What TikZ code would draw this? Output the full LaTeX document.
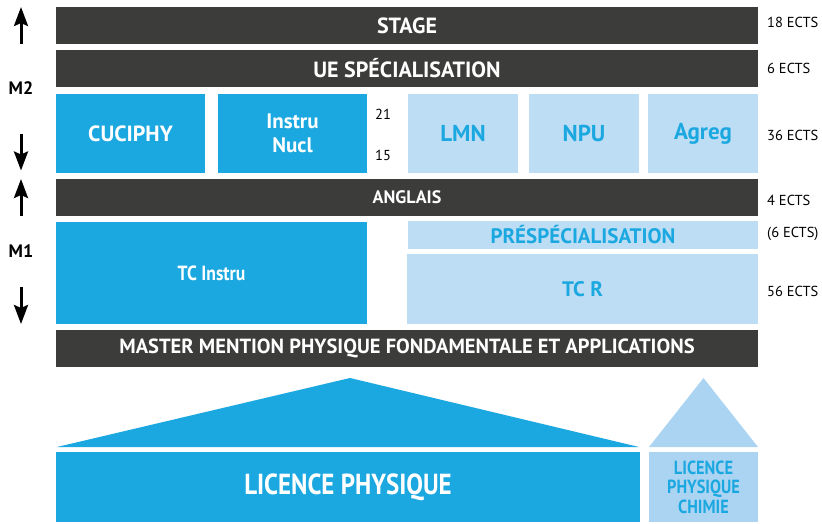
\documentclass[tikz,border=0pt]{standalone}
\usepackage{fontspec}
\setmainfont{PT Sans}
\newfontfamily\condb[FakeStretch=0.86]{PT Sans Bold}
\newfontfamily\plainb{PT Sans Bold}
\usetikzlibrary{arrows.meta}
\definecolor{darkbar}{HTML}{3C3C3B}
\definecolor{bblue}{HTML}{1BA8E0}
\definecolor{lblue}{HTML}{BDDDF4}
\definecolor{lblue2}{HTML}{ABD4F2}
\tikzset{
  box/.style={rectangle, inner sep=0pt, align=center, text=white, font=\plainb\fontsize{21}{21}\selectfont},
  dbar/.style={box, fill=darkbar, minimum width=702pt, minimum height=37pt},
  bbox/.style={box, fill=bblue},
  lbox/.style={box, fill=lblue, text=bblue},
  ects/.style={anchor=west, inner sep=0pt, font=\fontsize{14.5}{14.5}\selectfont},
  lvl/.style={inner sep=0pt, font=\plainb\fontsize{18}{18}\selectfont},
  yarrow/.style={line width=3pt, -{Stealth[width=14pt,length=19pt,inset=3pt]}}
}
\begin{document}
\begin{tikzpicture}[x=1pt,y=-1pt]
\fill[white] (0,0) rectangle (822,523);
\useasboundingbox (0,0) rectangle (822,523);
% dark bars
\node[dbar, font=\plainb\fontsize{22}{22}\selectfont] (stage) at (407,25.5) {STAGE};
\node[dbar, font=\plainb\fontsize{22}{22}\selectfont] (ue) at (407,68.5) {UE SPÉCIALISATION};
\node[dbar, font=\plainb\fontsize{18}{18}\selectfont] (anglais) at (407,197.5) {ANGLAIS};
\node[dbar, font=\plainb\fontsize{20.5}{20.5}\selectfont] (master) at (407,348.5) {MASTER MENTION PHYSIQUE FONDAMENTALE ET APPLICATIONS};
% M2 row
\node[bbox, minimum width=149pt, minimum height=79pt, font=\plainb\fontsize{22}{22}\selectfont] (cuciphy) at (130.5,133.5) {CUCIPHY};
\node[bbox, minimum width=149pt, minimum height=79pt, font=\plainb\fontsize{21}{24}\selectfont] (instru) at (292.5,133.5) {Instru\\Nucl};
\node[lbox, minimum width=110pt, minimum height=79pt, font=\plainb\fontsize{23}{23}\selectfont] (lmn) at (463,133.5) {LMN};
\node[lbox, minimum width=110pt, minimum height=79pt, font=\plainb\fontsize{23}{23}\selectfont] (npu) at (584,133.5) {NPU};
\node[lbox, minimum width=110pt, minimum height=79pt, font=\plainb\fontsize{23}{23}\selectfont] (agreg) at (703,133.5) {Agreg};
\node[inner sep=0pt, font=\fontsize{14.5}{14.5}\selectfont] (n21) at (383,114) {21};
\node[inner sep=0pt, font=\fontsize{14.5}{14.5}\selectfont] (n15) at (383,155) {15};
% M1 row
\node[bbox, minimum width=311pt, minimum height=102pt, font=\condb\fontsize{20.5}{20.5}\selectfont] (tcinstru) at (211.5,273) {TC Instru};
\node[lbox, minimum width=350pt, minimum height=28pt, font=\plainb\fontsize{21}{21}\selectfont] (presp) at (583,235) {PRÉSPÉCIALISATION};
\node[lbox, minimum width=351pt, minimum height=70pt, font=\plainb\fontsize{21}{21}\selectfont] (tcr) at (582.5,289) {TC R};
% licence
\fill[bblue] (57,447) -- (350,378) -- (639,447) -- cycle;
\fill[lblue2] (649,447) -- (703.5,378) -- (758,447) -- cycle;
\node[bbox, minimum width=584pt, minimum height=70pt, font=\condb\fontsize{29}{29}\selectfont] (licp) at (348,487) {LICENCE PHYSIQUE};
\node[box, fill=lblue2, text=bblue, minimum width=109pt, minimum height=70pt, font=\condb\fontsize{19}{19.5}\selectfont] (licpc) at (703.5,487) {LICENCE\\PHYSIQUE\\CHIMIE};
% ECTS
\node[ects] (e1) at (767,22) {18 ECTS};
\node[ects] (e2) at (767,68) {6 ECTS};
\node[ects] (e3) at (767,135) {36 ECTS};
\node[ects] (e4) at (767,200) {4 ECTS};
\node[ects] (e5) at (767,234) {(6 ECTS)};
\node[ects] (e6) at (767,291) {56 ECTS};
% levels
\node[lvl] (m2) at (21,88) {M2};
\node[lvl] (m1) at (21,251) {M1};
\coordinate (a1s) at (21,43.5); \coordinate (a1e) at (21,7);
\coordinate (a2s) at (21,134); \coordinate (a2e) at (21,170.5);
\coordinate (a3s) at (21,216); \coordinate (a3e) at (21,179);
\coordinate (a4s) at (21,287); \coordinate (a4e) at (21,324);
\draw[yarrow] (a1s) -- (a1e);
\draw[yarrow] (a2s) -- (a2e);
\draw[yarrow] (a3s) -- (a3e);
\draw[yarrow] (a4s) -- (a4e);
\end{tikzpicture}
\end{document}
